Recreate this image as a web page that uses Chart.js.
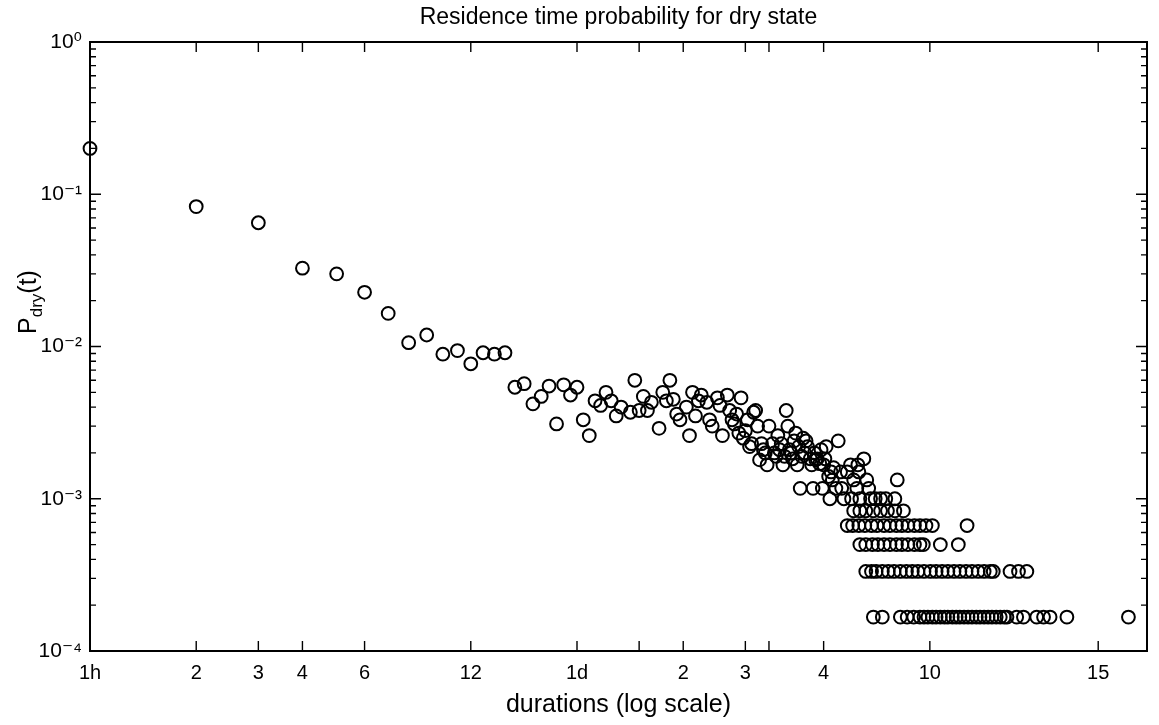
<!DOCTYPE html>
<html>
<head>
<meta charset="utf-8">
<script src="https://cdn.jsdelivr.net/npm/chart.js@4.4.1/dist/chart.umd.min.js"></script>
<style>
  html, body { margin: 0; padding: 0; background: #ffffff; }
  #c { display: block; }
</style>
</head>
<body>
<canvas id="c" width="1159" height="725"></canvas>
<script>
// ---------------- text ----------------
const chartTitle = 'Residence time probability for dry state';
const xAxisTitle = 'durations (log scale)';
const yTitleMain = 'P';
const yTitleSub = 'dry';
const yTitleTail = '(t)';

// ---------------- axis ticks ----------------
const xTickHours  = [1, 2, 3, 4, 6, 12, 24, 36, 48, 72, 84, 120, 240, 720];
const xTickLabels = ['1h', '2', '3', '4', '6', '12', '1d', '', '2', '3', '', '4', '10', '15'];
const yTickValues = [1e-4, 1e-3, 1e-2, 1e-1, 1];
const yTickLabels = ['10\u207B\u2074', '10\u207B\u00B3', '10\u207B\u00B2', '10\u207B\u00B9', '10\u2070'];

// ---------------- data: short durations (hours) ----------------
const hoursShort = [1, 2, 3, 4, 5, 6, 7, 8, 9, 10, 11, 12, 13, 14, 15, 16, 17, 18, 19, 20,
  21, 22, 23, 24, 25, 26, 27, 28, 29, 30, 31, 32, 34];
const probShort = [0.2, 0.083, 0.065, 0.0327, 0.030, 0.0227, 0.0165, 0.0106, 0.0119, 0.0089,
  0.0094, 0.0077, 0.0091, 0.0089, 0.0091, 0.0054, 0.0057, 0.0042, 0.0047, 0.0055,
  0.0031, 0.0056, 0.0048, 0.0054, 0.0033, 0.0026, 0.0044, 0.0041, 0.0050, 0.0044,
  0.0035, 0.0040, 0.0037];

// ---------------- data: 1.5 to 3.5 days ----------------
const hoursMid = [35, 36, 37, 38, 39, 41, 42, 43, 44, 45, 46, 47, 49, 50, 51, 52, 53, 54, 56, 57,
  58, 60, 61, 62, 64, 65, 66, 67, 68, 69, 70, 71, 72, 73, 74, 75, 76, 77, 78, 79, 80];
const probMid = [0.0060, 0.0038, 0.0047, 0.0038, 0.0043, 0.0029, 0.0050, 0.0044, 0.0060, 0.0045,
  0.0036, 0.0033, 0.0040, 0.0026, 0.0050, 0.0035, 0.0044, 0.0048, 0.0043, 0.0033,
  0.0030, 0.0046, 0.0041, 0.0026, 0.0048, 0.0038, 0.0033, 0.0031, 0.0036, 0.0027,
  0.0046, 0.0025, 0.0028, 0.0033, 0.0022, 0.0023, 0.0037, 0.0038, 0.0030, 0.0018, 0.0023];

// ---------------- data: 3.5 to 8 days ----------------
const hoursLong = [81, 82, 83, 84, 86, 87, 88, 89, 90, 91, 92, 93, 94, 95, 96, 97, 98, 99, 100, 101,
  102, 103, 104, 105, 106, 107, 108, 110, 111, 112, 113, 114, 115, 117, 118, 119, 120, 121, 122, 124,
  125, 126, 127, 128, 130, 132, 134, 135, 137, 140, 143, 144, 146, 149, 150, 151, 152, 156, 159, 161,
  163, 168, 174, 180, 191, 194];
const probLong = [0.0021, 0.0020, 0.00167, 0.0030, 0.0023, 0.0020, 0.0019, 0.0026, 0.0021, 0.0023,
  0.00167, 0.0019, 0.0038, 0.0030, 0.0021, 0.0020, 0.00183, 0.0024, 0.0027, 0.00167,
  0.0022, 0.00117, 0.0019, 0.0025, 0.0020, 0.0024, 0.0022, 0.00183, 0.00167, 0.00117,
  0.0020, 0.0018, 0.00183, 0.0017, 0.0021, 0.00117, 0.00167, 0.00183, 0.0022, 0.0014,
  0.0010, 0.0015, 0.00133, 0.0016, 0.00117, 0.0024, 0.0015, 0.00117, 0.0010, 0.0015,
  0.00167, 0.0010, 0.00133, 0.00117, 0.00167, 0.0015, 0.0010, 0.00183, 0.00133, 0.00117,
  0.0010, 0.0010, 0.0010, 0.0010, 0.0010, 0.00133];

// ---------------- data: tail, rare durations sitting on discrete probability levels ----------------
const tailLevels = [0.000833, 0.000667, 0.0005, 0.000333, 0.000167];
const tailHours5 = [146, 152, 158, 166, 174, 182, 191, 202];
const tailHours4 = [140, 145, 151, 157, 164, 170, 178, 185, 193, 200, 208, 217, 225, 234, 244, 306];
const tailHours3 = [152, 158, 165, 171, 178, 185, 193, 200, 208, 217, 225, 230, 257, 289];
const tailHours2 = [158, 164, 169, 176, 183, 190, 198, 206, 214, 222, 231, 241, 250, 260, 270, 281,
  292, 304, 316, 329, 342, 356, 363, 405, 428, 452];
const tailHours1 = [166, 176, 198, 207, 216, 225, 231, 237, 244, 250, 257, 264, 270, 278, 285, 292,
  300, 308, 316, 325, 333, 342, 351, 360, 370, 380, 390, 397, 423, 442, 482, 504, 526, 587, 877];

// ---------------- build datasets ----------------
const FONT = '"Liberation Sans", Arial, Helvetica, "DejaVu Sans", sans-serif';
function pairs(xs, ys) { return xs.map((x, i) => ({ x: x, y: ys[i] })); }
function level(xs, p) { return xs.map(x => ({ x: x, y: p })); }
const markerStyle = {
  showLine: false,
  pointStyle: 'circle',
  pointRadius: 6.4,
  pointHoverRadius: 6.4,
  pointBorderWidth: 2.0,
  pointBorderColor: '#000000',
  pointBackgroundColor: 'rgba(0,0,0,0)',
  borderColor: '#000000',
  backgroundColor: 'rgba(0,0,0,0)',
  clip: false
};
const datasets = [
  Object.assign({ label: 'short', data: pairs(hoursShort, probShort) }, markerStyle),
  Object.assign({ label: 'mid', data: pairs(hoursMid, probMid) }, markerStyle),
  Object.assign({ label: 'long', data: pairs(hoursLong, probLong) }, markerStyle),
  Object.assign({ label: 'tail5', data: level(tailHours5, tailLevels[0]) }, markerStyle),
  Object.assign({ label: 'tail4', data: level(tailHours4, tailLevels[1]) }, markerStyle),
  Object.assign({ label: 'tail3', data: level(tailHours3, tailLevels[2]) }, markerStyle),
  Object.assign({ label: 'tail2', data: level(tailHours2, tailLevels[3]) }, markerStyle),
  Object.assign({ label: 'tail1', data: level(tailHours1, tailLevels[4]) }, markerStyle)
];

// ---------------- box, inward ticks, y label ----------------
const framePlugin = {
  id: 'frame',
  afterDatasetsDraw(chart) {
    const ctx = chart.ctx, ca = chart.chartArea;
    const xs = chart.scales.x, ys = chart.scales.y;
    ctx.save();
    ctx.strokeStyle = '#000';
    ctx.lineWidth = 1.4;
    ctx.beginPath();
    xTickHours.forEach(h => {
      const px = xs.getPixelForValue(h);
      ctx.moveTo(px, ca.bottom); ctx.lineTo(px, ca.bottom - 10);
      ctx.moveTo(px, ca.top); ctx.lineTo(px, ca.top + 10);
    });
    yTickValues.forEach((base, k) => {
      for (let m = 1; m <= 9; m++) {
        if (k === yTickValues.length - 1 && m > 1) break;
        const py = ys.getPixelForValue(base * m);
        const len = m === 1 ? 11 : 6;
        ctx.moveTo(ca.left, py); ctx.lineTo(ca.left + len, py);
        ctx.moveTo(ca.right, py); ctx.lineTo(ca.right - len, py);
      }
    });
    ctx.stroke();
    ctx.lineWidth = 2;
    ctx.strokeRect(ca.left, ca.top, ca.right - ca.left, ca.bottom - ca.top);
    ctx.restore();
  },
  afterDraw(chart) {
    const ctx = chart.ctx;
    ctx.save();
    ctx.fillStyle = '#000';
    ctx.textBaseline = 'alphabetic';
    ctx.textAlign = 'left';
    const big = '25px ' + FONT, small = '17px ' + FONT;
    ctx.font = big; const w1 = ctx.measureText(yTitleMain).width;
    ctx.font = small; const w2 = ctx.measureText(yTitleSub).width;
    ctx.font = big; const w3 = ctx.measureText(yTitleTail).width;
    const total = w1 + w2 + w3;
    ctx.translate(36, 302);
    ctx.rotate(-Math.PI / 2);
    let x0 = -total / 2;
    ctx.font = big; ctx.fillText(yTitleMain, x0, 0); x0 += w1;
    ctx.font = small; ctx.fillText(yTitleSub, x0, 6); x0 += w2;
    ctx.font = big; ctx.fillText(yTitleTail, x0, 0);
    ctx.restore();
  }
};

new Chart(document.getElementById('c'), {
  type: 'scatter',
  data: { datasets: datasets },
  options: {
    responsive: false,
    devicePixelRatio: 1,
    animation: false,
    events: [],
    layout: { padding: { left: 0, right: 12, top: 0, bottom: 0 } },
    plugins: {
      legend: { display: false },
      tooltip: { enabled: false },
      title: {
        display: true,
        text: chartTitle,
        fullSize: false,
        color: '#000',
        font: { family: FONT, size: 23, weight: 'normal', lineHeight: 1.2 },
        padding: { top: 4, bottom: 10.4 }
      }
    },
    scales: {
      x: {
        type: 'logarithmic',
        position: 'bottom',
        min: 1,
        max: 990,
        bounds: 'data',
        grid: { display: false, drawTicks: false },
        border: { display: false },
        afterBuildTicks: (scale) => { scale.ticks = xTickHours.map(v => ({ value: v })); },
        afterFit: (scale) => { scale.height = 74; },
        ticks: {
          autoSkip: false,
          maxRotation: 0,
          minRotation: 0,
          padding: 10,
          color: '#000',
          font: { family: FONT, size: 20 },
          callback: (value, index) => xTickLabels[index]
        },
        title: {
          display: true,
          text: xAxisTitle,
          color: '#000',
          font: { family: FONT, size: 25 },
          padding: { top: 0, bottom: 5 }
        }
      },
      y: {
        type: 'logarithmic',
        position: 'left',
        min: 1e-4,
        max: 1,
        bounds: 'data',
        grid: { display: false, drawTicks: false },
        border: { display: false },
        afterBuildTicks: (scale) => { scale.ticks = yTickValues.map(v => ({ value: v })); },
        afterFit: (scale) => { scale.width = 90; },
        ticks: {
          autoSkip: false,
          padding: 8,
          color: '#000',
          font: { family: FONT, size: 21 },
          callback: (value, index) => yTickLabels[index]
        }
      }
    }
  },
  plugins: [framePlugin]
});
</script>
</body>
</html>
